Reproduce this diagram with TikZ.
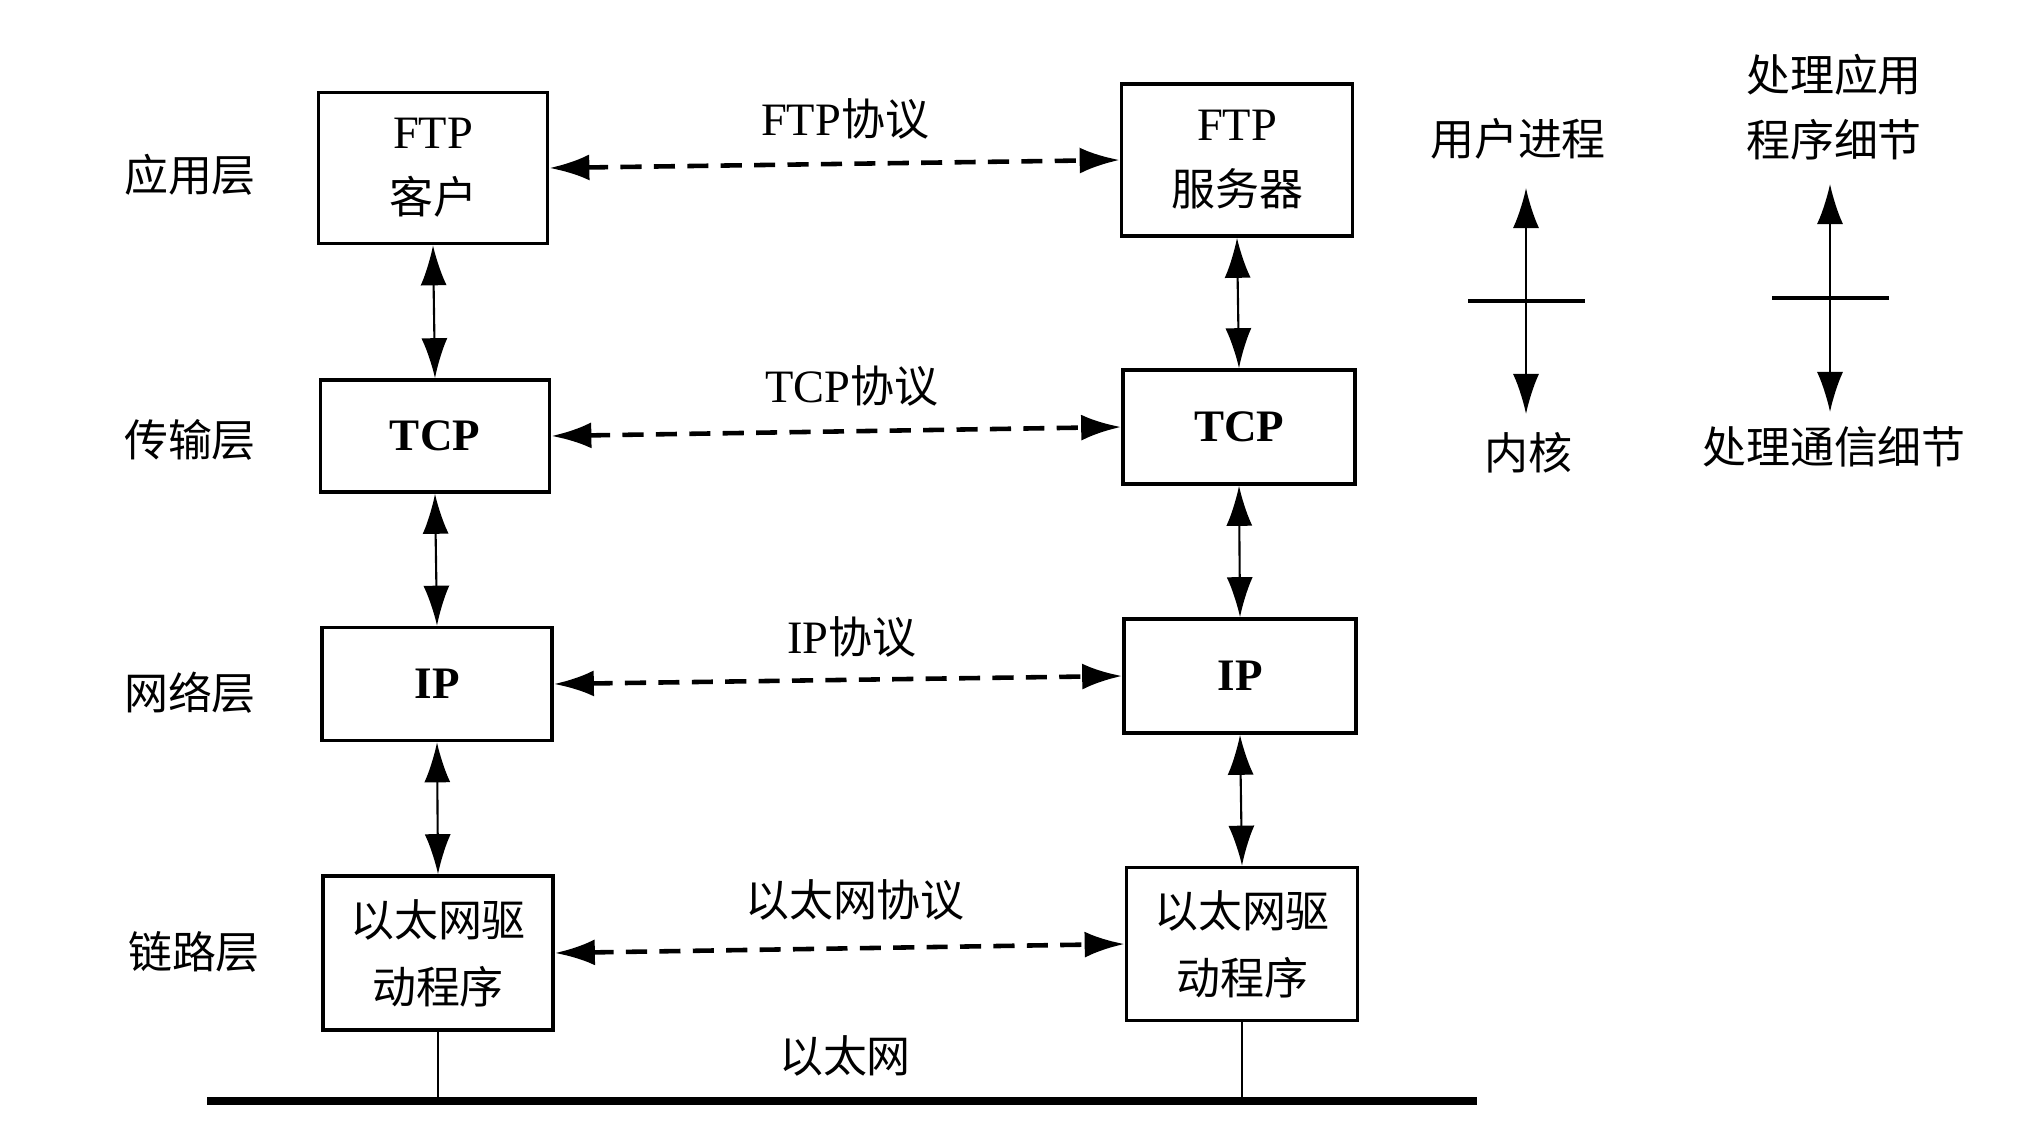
\documentclass[tikz,border=0pt]{standalone}
\usepackage{fontspec}
\setmainfont{Liberation Serif}
\newfontfamily\zh{Noto Sans CJK SC}
\usetikzlibrary{arrows.meta,calc}

\begin{document}
\begin{tikzpicture}[x=0.01cm,y=-0.01cm,
    font=\fontsize{13.2}{18.5}\selectfont,
    layerbox/.style={draw,line width=1pt,align=center,inner sep=0pt},
    stackarrow/.style={{Latex[length=4mm,width=2.6mm]}-{Latex[length=4mm,width=2.6mm]},line width=0.6pt},
    peerarrow/.style={stackarrow,line width=1.3pt,dash pattern=on 6pt off 3.5pt},
    zhlabel/.style={font=\fontsize{12.5}{18.5}\selectfont\zh,align=center,inner sep=0pt}]
    \useasboundingbox (0,0) rectangle (2031,1125);

    % Layer names
    \node[zhlabel] (lapp) at (190,175) {应用层};
    \node[zhlabel] (ltrans) at (190,440) {传输层};
    \node[zhlabel] (lnet) at (190,693) {网络层};
    \node[zhlabel] (llink) at (194,952) {链路层};

    % Client stack
    \node[layerbox,minimum width=2.29cm,minimum height=1.51cm] (ftpc) at (433,168) {FTP\\{\zh\fontsize{12.5}{18.5}\selectfont 客户}};
    \node[layerbox,minimum width=2.29cm,minimum height=1.12cm,font=\fontsize{12.8}{18.5}\selectfont\bfseries] (tcpc) at (435,436) {TCP};
    \node[layerbox,minimum width=2.30cm,minimum height=1.13cm,font=\fontsize{12.8}{18.5}\selectfont\bfseries] (ipc) at (437,684) {IP};
    \node[layerbox,minimum width=2.30cm,minimum height=1.54cm,font=\fontsize{12.5}{19}\selectfont\zh] (ethc) at (438,953) {以太网驱\\动程序};

    % Server stack
    \node[layerbox,minimum width=2.31cm,minimum height=1.52cm] (ftps) at (1237,160) {FTP\\{\zh\fontsize{12.5}{18.5}\selectfont 服务器}};
    \node[layerbox,minimum width=2.32cm,minimum height=1.14cm,font=\fontsize{12.8}{18.5}\selectfont\bfseries] (tcps) at (1239,427) {TCP};
    \node[layerbox,minimum width=2.32cm,minimum height=1.14cm,font=\fontsize{12.8}{18.5}\selectfont\bfseries] (ips) at (1240,676) {IP};
    \node[layerbox,minimum width=2.31cm,minimum height=1.53cm,font=\fontsize{12.5}{19}\selectfont\zh] (eths) at (1242,944) {以太网驱\\动程序};

    % Up and down inside each stack
    \draw[stackarrow] (ftpc.south) -- (tcpc.north);
    \draw[stackarrow] (tcpc.south) -- (ipc.north);
    \draw[stackarrow] (ipc.south) -- (ethc.north);
    \draw[stackarrow] (ftps.south) -- (tcps.north);
    \draw[stackarrow] (tcps.south) -- (ips.north);
    \draw[stackarrow] (ips.south) -- (eths.north);

    % Peer protocols
    \draw[peerarrow] (ftpc.east) -- (ftps.west);
    \draw[peerarrow] (tcpc.east) -- (tcps.west);
    \draw[peerarrow] (ipc.east) -- (ips.west);
    \draw[peerarrow] (ethc.east) -- (eths.west);
    \node[inner sep=0pt] (pftp) at (845,119) {FTP\zh\fontsize{12.5}{18.5}\selectfont 协议};
    \node[inner sep=0pt] (ptcp) at (852,386) {TCP\zh\fontsize{12.5}{18.5}\selectfont 协议};
    \node[inner sep=0pt] (pip) at (852,637) {IP\zh\fontsize{12.5}{18.5}\selectfont 协议};
    \node[zhlabel] (peth) at (855,900) {以太网协议};

    % Ethernet cable
    \coordinate (busw) at (207,1101);
    \coordinate (buse) at (1477,1101);
    \draw[line width=2pt] (busw) -- (buse);
    \draw[line width=0.6pt] (ethc.south) -- (ethc.south |- busw);
    \draw[line width=0.6pt] (eths.south) -- (eths.south |- busw);
    \node[zhlabel] (ether) at (845,1056) {以太网};

    % User / kernel split
    \node[zhlabel] (user) at (1518,139) {用户进程};
    \node[zhlabel] (kernel) at (1528,453) {内核};
    \coordinate (utop) at (1526,188);
    \coordinate (ubot) at (1526,414);
    \draw[stackarrow] (utop) -- (ubot);
    \draw[line width=1pt] ($(utop)!0.5!(ubot)$) ++(-58,0) -- ++(117,0);

    \node[zhlabel] (appdet) at (1834,107) {处理应用\\程序细节};
    \node[zhlabel] (comdet) at (1834,447) {处理通信细节};
    \coordinate (dtop) at (1830,184);
    \coordinate (dbot) at (1830,412);
    \draw[stackarrow] (dtop) -- (dbot);
    \draw[line width=1pt] ($(dtop)!0.5!(dbot)$) ++(-58,0) -- ++(117,0);
\end{tikzpicture}
\end{document}
